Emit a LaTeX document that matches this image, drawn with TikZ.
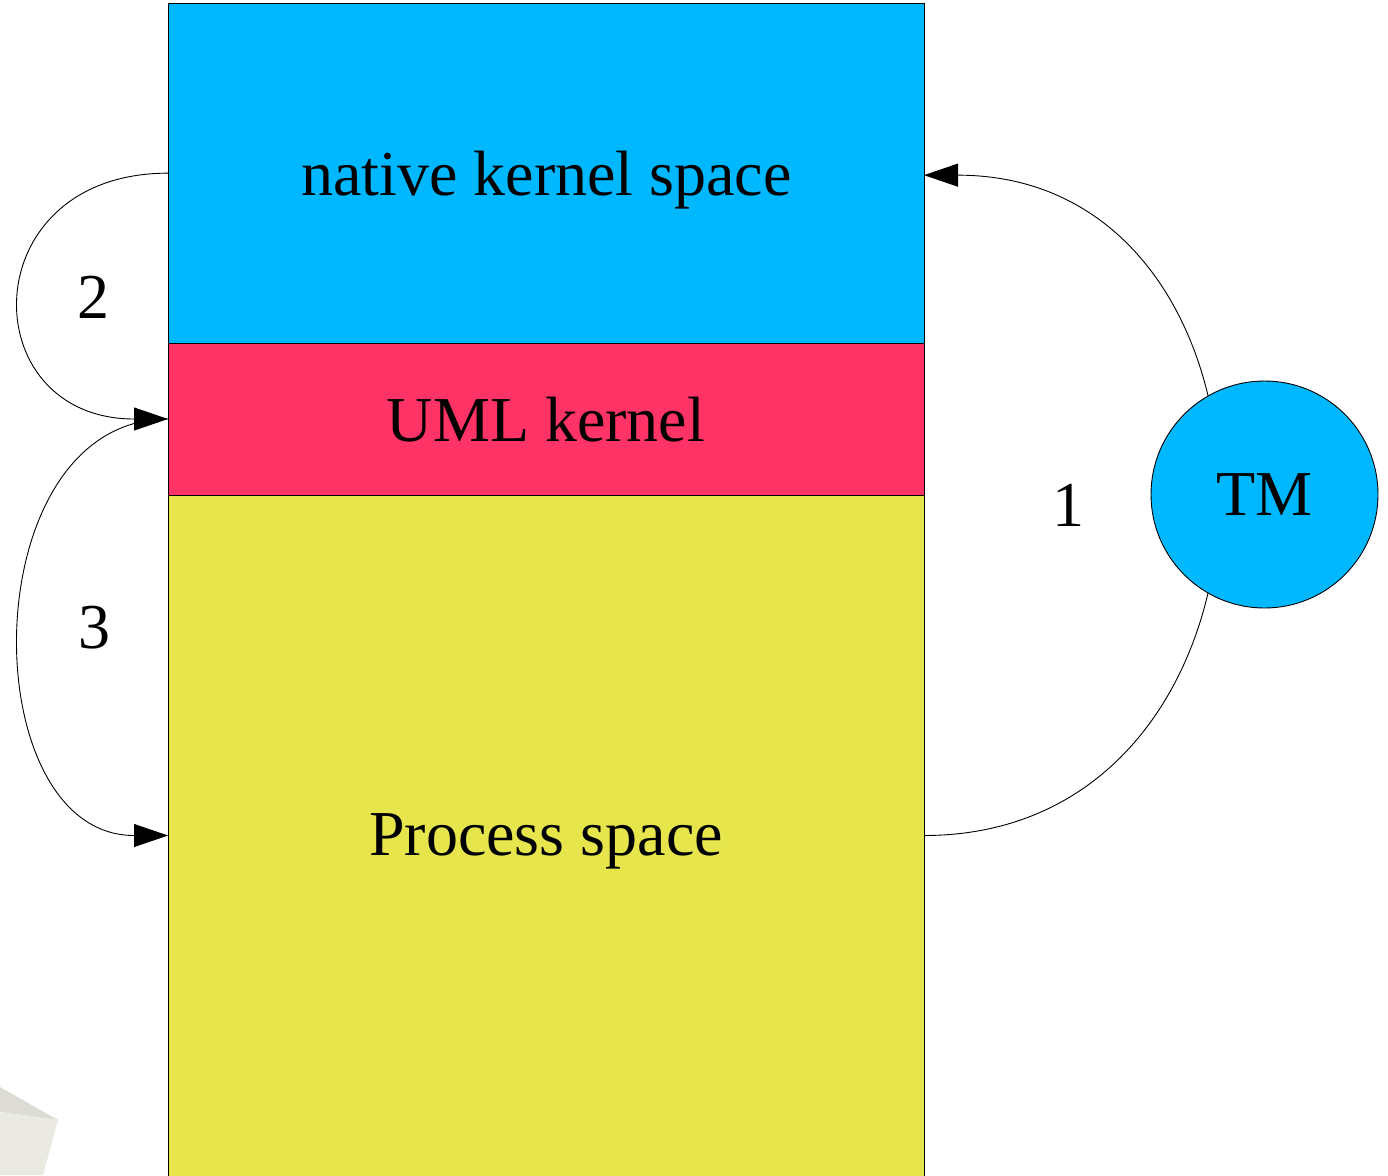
\documentclass[tikz,border=0pt]{standalone}
\usepackage{fontspec}
\setmainfont{Liberation Serif}
\usetikzlibrary{arrows.meta}
\definecolor{skyblue}{HTML}{00B8FF}
\definecolor{rosered}{HTML}{FF3366}
\definecolor{lemon}{HTML}{E6E64C}
\definecolor{shadeA}{HTML}{DCDCD5}
\definecolor{shadeB}{HTML}{EAEAE2}
\begin{document}
\begin{tikzpicture}[x=1pt,y=-1pt,
  layer/.style={draw=black,line width=0.9pt,minimum width=756pt,inner sep=0pt,outer sep=0pt},
  big/.style={font=\fontsize{64}{70}\selectfont,inner sep=0pt},
  link/.style={line width=0.9pt},
  tip/.style={-{Triangle[length=34pt,width=23pt]}}]
\useasboundingbox (0,0) rectangle (1388,1175);
% faint box in the lower left corner
\fill[shadeA] (0,1087) -- (58,1120) -- (0,1112) -- cycle;
\fill[shadeB] (0,1112) -- (58,1120) -- (43,1175) -- (0,1175) -- cycle;
% memory layers
\node[layer,fill=skyblue,minimum height=339.7pt] (native) at (546,173.15) {};
\node[layer,fill=rosered,minimum height=152pt] (uml) at (546,419) {};
\node[layer,fill=lemon,minimum height=681pt] (proc) at (546,835.5) {};
\node[big,anchor=base] (tnative) at (546.5,195) {native kernel space};
\node[big,anchor=base] (tuml) at (546,441) {UML kernel};
\node[big,anchor=base] (tproc) at (546,855) {Process space};
% transitions
\draw[link,tip] (native.west) .. controls +(-196,0) and +(-196,0) .. (uml.west);
\draw[link,tip] (uml.west) .. controls +(-196,0) and +(-196,0) .. (proc.west);
\draw[link,tip] (proc.east) .. controls +(388,0) and +(388,0) .. ([yshift=-2pt]native.east);
\node[big,anchor=base] (n2) at (93.5,318) {2};
\node[big,anchor=base] (n3) at (94,648) {3};
\node[big,anchor=base] (n1) at (1068,526) {1};
% trap monitor
\node[circle,draw=black,line width=0.9pt,fill=skyblue,minimum size=227pt,big] (tm) at (1264.5,494.5) {TM};
\end{tikzpicture}
\end{document}
